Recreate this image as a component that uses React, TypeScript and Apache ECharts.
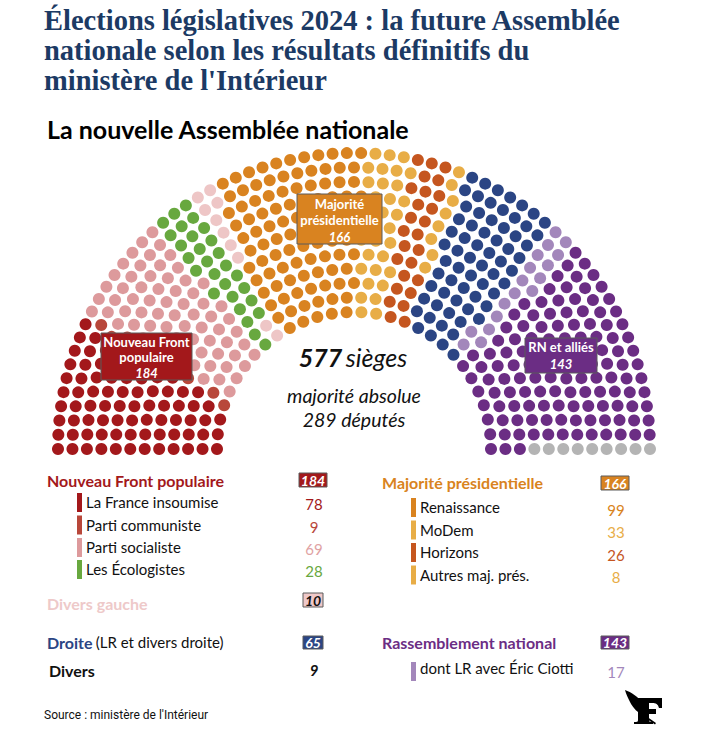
import React, { useEffect, useRef } from "react";
import * as echarts from "echarts";

// ---------- data ----------
const PARTIES = [
  "La France insoumise",
  "Parti communiste",
  "Parti socialiste",
  "Les Écologistes",
  "Divers gauche",
  "Renaissance",
  "MoDem",
  "Horizons",
  "Autres maj. prés.",
  "Droite (LR et divers droite)",
  "dont LR avec Éric Ciotti",
  "Rassemblement national",
  "Divers",
];
const SEATS = [78, 9, 69, 28, 10, 99, 33, 26, 8, 65, 17, 126, 9];
const COLORS = [
  "#a3181b", "#b8473a", "#dd9a9c", "#68a83f", "#eec6c6",
  "#d98320", "#e8ad46", "#c5561f", "#e8ad46",
  "#2b4584", "#a387bb", "#6b2d84", "#b4b4b4",
];

const GROUPS = ["Nouveau Front populaire", "Divers gauche", "Majorité présidentielle", "Droite", "Rassemblement national", "Divers"];
const GROUP_SEATS = [184, 10, 166, 65, 143, 9];
const TOTAL_SEATS = 577;
const MAJORITY = 289;

const TITLE = "Élections législatives 2024 : la future Assemblée\nnationale selon les résultats définitifs du\nministère de l'Intérieur";
const SUBTITLE = "La nouvelle Assemblée nationale";
const SOURCE = "Source : ministère de l'Intérieur";

// ---------- hemicycle layout ----------
const RINGS = 12;
const R_IN = 137;
const R_OUT = 296;
const SORT_DROP = 35; // seats are ordered by angle seen from a point below the centre

function buildSeats() {
  const radii: number[] = [];
  for (let i = 0; i < RINGS; i++) radii.push(R_IN + (i * (R_OUT - R_IN)) / (RINGS - 1));
  const sumR = radii.reduce((a, b) => a + b, 0);
  const counts = radii.map((r) => Math.round((TOTAL_SEATS * r) / sumR));
  let diff = TOTAL_SEATS - counts.reduce((a, b) => a + b, 0);
  let k = RINGS - 1;
  while (diff !== 0) {
    counts[k] += diff > 0 ? 1 : -1;
    diff += diff > 0 ? -1 : 1;
    k = (k - 1 + RINGS) % RINGS;
  }
  const seats: { r: number; a: number; key: number }[] = [];
  radii.forEach((r, i) => {
    const n = counts[i];
    for (let j = 0; j < n; j++) {
      const a = 180 - (j * 180) / (n - 1);
      let key: number;
      if (j === 0) key = 1000 + i * 0.01;
      else if (j === n - 1) key = -1 - i * 0.01;
      else {
        const rad = (a * Math.PI) / 180;
        key = (Math.atan2(r * Math.sin(rad) + SORT_DROP, r * Math.cos(rad)) * 180) / Math.PI;
      }
      seats.push({ r, a, key });
    }
  });
  seats.sort((p, q) => q.key - p.key);
  const out: number[][][] = PARTIES.map(() => []);
  let idx = 0;
  SEATS.forEach((s, pi) => {
    for (let m = 0; m < s; m++) {
      const seat = seats[idx++];
      out[pi].push([seat.r, seat.a]);
    }
  });
  return out;
}

// Figaro logo
const LOGO_D =
  "M0 2 C6 4 14 9 18 16 C21 21 21 25 19 28 C13 25 8 20 5 14 C3 10 1 6 0 2 Z " +
  "M13 10 L37 10 L37 20 L34 20 C33 16 31 15 27 15 L24 15 L24 21 L31 21 L31 26 L24 26 L24 32 C24 34 25 34 28 34 L28 36 L9 36 L9 34 C12 34 13 34 13 32 Z " +
  "M18 26 L31 35 L30 36.5 L17 27.5 Z";

const SANS = "Lato, 'Noto Sans', sans-serif";

function txt(x: number, y: number, text: string, font: string, fill: string, align = "left", extra: any = {}) {
  return {
    type: "text",
    x,
    y,
    z: 100,
    style: {
      text,
      font,
      fill,
      align,
      textAlign: align,
      verticalAlign: "middle",
      textVerticalAlign: "middle",
      ...extra,
    },
  };
}

function box(x: number, y: number, w: number, h: number, fill: string) {
  return {
    type: "rect",
    z: 99,
    shape: { x, y, width: w, height: h },
    style: { fill, stroke: "#5a5a5a", lineWidth: 1 },
  };
}

function bar(x: number, y: number, color: string) {
  return { type: "rect", z: 99, shape: { x, y, width: 5, height: 19 }, style: { fill: color } };
}

export default function App() {
  const ref = useRef<HTMLDivElement>(null);
  useEffect(() => {
    if (!ref.current) return;
    try {
      echarts.graphic.registerShape("figaro", echarts.graphic.extendPath(LOGO_D, {}) as any);
    } catch (e) {}
    const chart = echarts.init(ref.current, undefined, { renderer: "svg" });
    const seatData = buildSeats();

    const series = PARTIES.map((name, i) => ({
      type: "scatter",
      name,
      coordinateSystem: "polar",
      symbol: "circle",
      symbolSize: 12,
      itemStyle: { color: COLORS[i], opacity: 1 },
      data: seatData[i],
      silent: true,
    }));

    const HEAD = "bold 16px " + SANS;
    const ITEM = "15px " + SANS;
    const NUM = "15px " + SANS;
    const BOXNUM = "italic bold 14px " + SANS;
    const LAB = "bold 13px " + SANS;
    const LABNUM = "italic bold 13px " + SANS;
    const g: any[] = [];
    // center labels
    g.push(
      txt(353, 357, "", "", "#000", "center", {
        text: "{b|" + TOTAL_SEATS + "} {i|sièges}",
        rich: {
          b: { font: "italic bold 25px " + SANS, fill: "#111" },
          i: { font: "italic 25px " + SANS, fill: "#111" },
        },
      })
    );
    g.push(txt(354, 395, "majorité absolue", "italic 19.5px " + SANS, "#111", "center"));
    g.push(txt(354, 419, MAJORITY + " députés", "italic 19.5px " + SANS, "#111", "center"));

    // chart boxes
    g.push(box(101, 333, 91, 47, COLORS[0]));
    g.push(txt(146.5, 341.5, "Nouveau Front", LAB, "#fff", "center"));
    g.push(txt(146.5, 357, "populaire", LAB, "#fff", "center"));
    g.push(txt(146.5, 373, String(GROUP_SEATS[0]), LABNUM, "#fff", "center"));

    g.push(box(297, 194, 85, 50, COLORS[5]));
    g.push(txt(339.5, 203.5, "Majorité", LAB, "#fff", "center"));
    g.push(txt(339.5, 219.5, "présidentielle", LAB, "#fff", "center"));
    g.push(txt(339.5, 236.5, String(GROUP_SEATS[2]), LABNUM, "#fff", "center"));

    g.push(box(525, 338, 72, 35, COLORS[11]));
    g.push(txt(561, 347, "RN et alliés", LAB, "#fff", "center"));
    g.push(txt(561, 363.5, String(GROUP_SEATS[4]), LABNUM, "#fff", "center"));

    // legend left
    g.push(txt(47, 480, GROUPS[0], HEAD, COLORS[0]));
    g.push(box(299, 473, 28, 14, COLORS[0]));
    g.push(txt(313, 480.5, String(GROUP_SEATS[0]), BOXNUM, "#fff", "center"));
    const leftRows = [0, 1, 2, 3];
    const leftY = [502, 524.5, 547, 569];
    leftRows.forEach((p, k) => {
      g.push(bar(77, leftY[k] - 9, COLORS[p]));
      g.push(txt(86, leftY[k], PARTIES[p], ITEM, "#111"));
      g.push(txt(314, leftY[k] + 2, String(SEATS[p]), NUM, p === 2 ? "#e0a2a3" : COLORS[p], "center"));
    });
    g.push(txt(47, 603, GROUPS[1], HEAD, "#eec9c9"));
    g.push(box(303, 593, 20, 14, "#efc8c8"));
    g.push(txt(313, 600, String(GROUP_SEATS[1]), BOXNUM, "#111", "center"));

    g.push(
      txt(47, 642, "", "", "#111", "left", {
        text: "{b|" + GROUPS[3] + "} {n|(LR et divers droite)}",
        rich: {
          b: { font: HEAD, fill: COLORS[9] },
          n: { font: ITEM, fill: "#111" },
        },
      })
    );
    g.push(box(303, 636, 20, 13, COLORS[9]));
    g.push(txt(313, 642.5, String(GROUP_SEATS[3]), BOXNUM, "#fff", "center"));

    g.push(txt(49, 670, GROUPS[5], HEAD, "#111"));
    g.push(txt(314, 670, String(GROUP_SEATS[5]), "italic bold 15px " + SANS, "#111", "center"));

    // legend right
    g.push(txt(382, 482, GROUPS[2], HEAD, COLORS[5]));
    g.push(box(601, 476, 28, 14, COLORS[5]));
    g.push(txt(615, 483, String(GROUP_SEATS[2]), BOXNUM, "#fff", "center"));
    const rightRows = [5, 6, 7, 8];
    const rightY = [507, 529.5, 552, 574.5];
    rightRows.forEach((p, k) => {
      g.push(bar(411, rightY[k] - 9, COLORS[p]));
      g.push(txt(420, rightY[k], PARTIES[p], ITEM, "#111"));
      g.push(txt(616, rightY[k] + 2.5, String(SEATS[p]), NUM, COLORS[p], "center"));
    });
    g.push(txt(382, 642, GROUPS[4], HEAD, COLORS[11]));
    g.push(box(601, 636, 28, 13, COLORS[11]));
    g.push(txt(615, 642.5, String(GROUP_SEATS[4]), BOXNUM, "#fff", "center"));
    g.push(bar(411, 662, COLORS[10]));
    g.push(txt(420, 668, PARTIES[10], ITEM, "#111"));
    g.push(txt(616, 672, String(SEATS[10]), NUM, COLORS[10], "center"));

    // subtitle, source, logo
    g.push(txt(47, 129, SUBTITLE, "bold 25px " + SANS, "#000"));
    g.push(txt(44, 715, SOURCE, "12px Roboto, sans-serif", "#111", "left"));
    g.push({ type: "figaro", x: 625, y: 688, z: 100, style: { fill: "#000" } });

    chart.setOption({
      animation: false,
      backgroundColor: "#fff",
      title: {
        text: TITLE,
        left: 44,
        top: 5,
        padding: 0,
        textStyle: {
          fontFamily: "'Liberation Serif', 'DejaVu Serif', serif",
          fontWeight: "bold",
          fontSize: 28.5,
          lineHeight: 30,
          color: "#1c3a64",
        },
      },
      polar: { center: [354, 449], radius: [0, R_OUT] },
      angleAxis: {
        type: "value",
        min: 0,
        max: 360,
        startAngle: 0,
        clockwise: false,
        show: false,
        axisLine: { show: false },
        axisLabel: { show: false },
        splitLine: { show: false },
        axisTick: { show: false },
      },
      radiusAxis: {
        type: "value",
        min: 0,
        max: R_OUT,
        show: false,
        axisLine: { show: false },
        axisLabel: { show: false },
        splitLine: { show: false },
        axisTick: { show: false },
      },
      series,
      graphic: g,
    });
    return () => chart.dispose();
  }, []);
  return <div ref={ref} style={{ position: "absolute", left: 0, top: 0, width: 703, height: 730 }} />;
}
